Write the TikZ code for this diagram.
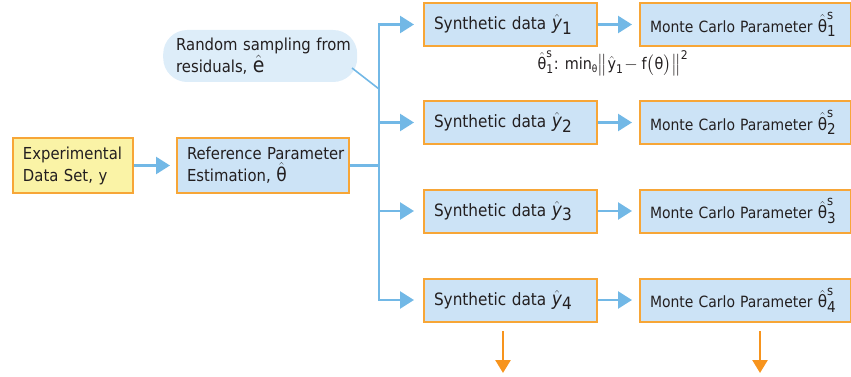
\documentclass[tikz,border=0pt]{standalone}
\usepackage{amsmath}
\usepackage{fontspec}
\setmainfont{DejaVu Sans Condensed}
\usetikzlibrary{arrows.meta}
\definecolor{boxblue}{HTML}{CCE3F6}
\definecolor{boxorange}{HTML}{F7A637}
\definecolor{boxyellow}{HTML}{FAF3A6}
\definecolor{flowblue}{HTML}{72B8E6}
\definecolor{bubblefill}{HTML}{DDEDF9}
\definecolor{arrorange}{HTML}{F7941D}
\definecolor{txt}{HTML}{231F20}
\newcommand{\yh}[1]{{\fontsize{19}{19}\selectfont$\hat{\text{\itshape y}}$}\raisebox{-0.45ex}{\fontsize{17}{17}\selectfont #1}}
\newcommand{\thh}[1]{{\fontsize{17}{17}\selectfont$\hat{\text{θ}}^{\text{\fontsize{13}{13}\selectfont s}}_{\text{\fontsize{15}{15}\selectfont #1}}$}}
\begin{document}
\begin{tikzpicture}[x=1pt,y=-1pt,
  every node/.style={text=txt, font=\fontsize{16.5}{22}\selectfont},
  box/.style={draw=boxorange, line width=2pt, fill=boxblue, inner xsep=10pt, inner ysep=0pt, align=left, anchor=west},
  synbox/.style={box, minimum height=43pt, text width=153pt, font=\fontsize{17}{20}\selectfont},
  mcbox/.style={box, minimum height=43pt, text width=191pt, font=\fontsize{15.5}{20}\selectfont},
  bubble/.style={fill=bubblefill, rounded corners=24pt, minimum height=52pt, inner xsep=0pt, align=left, anchor=west, text width=194pt},
  flow/.style={draw=flowblue, line width=2.6pt, -{Triangle[length=14pt,width=17pt]}},
  trunk/.style={draw=flowblue, line width=2.6pt},
  down/.style={draw=arrorange, line width=2.6pt, -{Triangle[length=13pt,width=15pt]}}
]
\useasboundingbox (0,0) rectangle (851,377);

\node[box, fill=boxyellow, minimum height=55pt, text width=100pt] (exp) at (12,165.5) {\mbox{Experimental}\\\mbox{Data Set, y}};
\node[box, minimum height=55pt, text width=152pt] (ref) at (176,165.5) {\mbox{Reference Parameter}\\\mbox{Estimation, {\fontsize{19}{19}\selectfont$\hat{\text{θ}}$}}};

\node[bubble] (bub) at (163,56) {\hspace*{13pt}\mbox{Random sampling from}\\\hspace*{13pt}\mbox{residuals, {\fontsize{21}{21}\selectfont$\hat{\text{e}}$}}};

\node[synbox] (s1) at (423,24.5) {\mbox{Synthetic data \yh{1}}};
\node[synbox] (s2) at (423,122.5) {\mbox{Synthetic data \yh{2}}};
\node[synbox] (s3) at (423,211) {\mbox{Synthetic data \yh{3}}};
\node[synbox] (s4) at (423,300) {\mbox{Synthetic data \yh{4}}};

\node[mcbox] (m1) at (639,24.5) {\mbox{Monte Carlo Parameter \thh{1}}};
\node[mcbox] (m2) at (639,122.5) {\mbox{Monte Carlo Parameter \thh{2}}};
\node[mcbox] (m3) at (639,211) {\mbox{Monte Carlo Parameter \thh{3}}};
\node[mcbox] (m4) at (639,300) {\mbox{Monte Carlo Parameter \thh{4}}};

\node[font=\fontsize{16}{16}\selectfont] (form) at (613,63) {$\hat{\text{θ}}^{\text{\fontsize{12}{12}\selectfont s}}_{\text{\fontsize{12}{12}\selectfont 1}}$: min$_{\text{\fontsize{10}{10}\selectfont θ}}\big\|\hat{\text{y}}_{\text{\fontsize{12}{12}\selectfont 1}}\!-\text{f}\big(\text{θ}\big)\big\|^{\text{\fontsize{12}{12}\selectfont 2}}$};

\coordinate (split) at (379,165.5);
\coordinate (bubtip) at (352,68);
\coordinate (join) at (379,89);
\coordinate (top) at (379,24.5);
\coordinate (bot) at (379,300);

\draw[flow, shorten >=6pt] (exp) -- (ref);
\draw[trunk] (ref.east) -- (split);
\draw[trunk, line cap=rect] (top) -- (bot);
\draw[draw=flowblue, line width=1.6pt] (bubtip) -- (join);
\foreach \i in {1,2,3,4} {
  \draw[flow, shorten >=9pt] (s\i.west -| split) -- (s\i.west);
  \draw[flow, shorten >=7pt] (s\i) -- (m\i);
}
\coordinate (d1a) at (503,331);
\coordinate (d1b) at (503,373);
\coordinate (d2a) at (760,331);
\coordinate (d2b) at (760,373);
\draw[down] (d1a) -- (d1b);
\draw[down] (d2a) -- (d2b);
\end{tikzpicture}
\end{document}
